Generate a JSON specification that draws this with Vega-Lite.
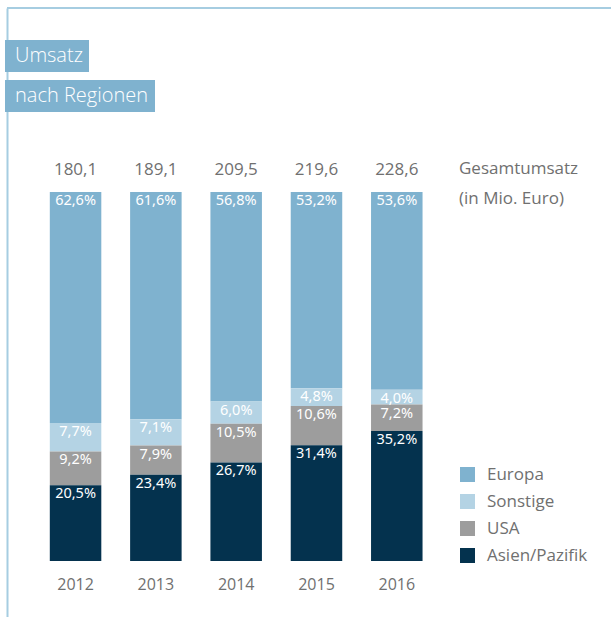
{
  "$schema": "https://vega.github.io/schema/vega-lite/v6.json",
  "width": 604,
  "height": 609,
  "autosize": {"type": "none"},
  "padding": {"left": 7, "top": 8, "right": 0, "bottom": 0},
  "background": "white",
  "config": {
    "view": {"stroke": null},
    "locale": {"number": {"decimal": ",", "thousands": ".", "grouping": [3], "currency": ["", " €"]}},
    "font": "Open Sans"
  },
  "datasets": {
    "regions": [
      {"year": "2012", "region": "Europa", "share": 0.626},
      {"year": "2012", "region": "Sonstige", "share": 0.077},
      {"year": "2012", "region": "USA", "share": 0.092},
      {"year": "2012", "region": "Asien/Pazifik", "share": 0.205},
      {"year": "2013", "region": "Europa", "share": 0.616},
      {"year": "2013", "region": "Sonstige", "share": 0.071},
      {"year": "2013", "region": "USA", "share": 0.079},
      {"year": "2013", "region": "Asien/Pazifik", "share": 0.234},
      {"year": "2014", "region": "Europa", "share": 0.568},
      {"year": "2014", "region": "Sonstige", "share": 0.060},
      {"year": "2014", "region": "USA", "share": 0.105},
      {"year": "2014", "region": "Asien/Pazifik", "share": 0.267},
      {"year": "2015", "region": "Europa", "share": 0.532},
      {"year": "2015", "region": "Sonstige", "share": 0.048},
      {"year": "2015", "region": "USA", "share": 0.106},
      {"year": "2015", "region": "Asien/Pazifik", "share": 0.314},
      {"year": "2016", "region": "Europa", "share": 0.536},
      {"year": "2016", "region": "Sonstige", "share": 0.040},
      {"year": "2016", "region": "USA", "share": 0.072},
      {"year": "2016", "region": "Asien/Pazifik", "share": 0.352}
    ],
    "totals": [
      {"year": "2012", "total": 180.1},
      {"year": "2013", "total": 189.1},
      {"year": "2014", "total": 209.5},
      {"year": "2015", "total": 219.6},
      {"year": "2016", "total": 228.6}
    ]
  },
  "layer": [
    {
      "data": {"name": "regions"},
      "transform": [
        {"calculate": "indexof(['Asien/Pazifik','USA','Sonstige','Europa'], datum.region)", "as": "rank"},
        {"stack": "share", "groupby": ["year"], "sort": [{"field": "rank", "order": "ascending"}], "as": ["y0", "y1"]}
      ],
      "layer": [
        {
          "mark": {"type": "bar"},
          "encoding": {
            "x": {
              "field": "year", "type": "ordinal",
              "scale": {"range": [2.65, 455.7], "paddingInner": 0.3587, "paddingOuter": 0.5},
              "axis": null
            },
            "y": {
              "field": "y0", "type": "quantitative",
              "scale": {"domain": [-0.15176, 1.49864], "nice": false, "zero": false},
              "axis": {"orient": "left", "labels": false, "ticks": false, "title": null, "grid": false, "domain": true, "domainColor": "#a6cde1", "domainWidth": 2}
            },
            "y2": {"field": "y1"},
            "color": {
              "field": "region", "type": "nominal",
              "scale": {"domain": ["Europa", "Sonstige", "USA", "Asien/Pazifik"], "range": ["#7fb2cf", "#b4d3e4", "#9d9d9d", "#04324e"]},
              "legend": {
                "orient": "none", "legendX": 452, "legendY": 153,
                "title": ["Gesamtumsatz", "(in Mio. Euro)"],
                "titleFont": "Open Sans", "titleFontSize": 17, "titleFontWeight": "normal", "titleColor": "#707070",
                "titleLineHeight": 30, "titlePadding": 258, "titleLimit": 300,
                "symbolType": "square", "symbolSize": 225, "symbolStrokeWidth": 0, "symbolOpacity": 1,
                "labelFont": "Open Sans", "labelFontSize": 17, "labelColor": "#707070", "labelOffset": 11, "labelLimit": 300,
                "rowPadding": 9, "padding": 0
              }
            }
          }
        },
        {
          "mark": {"type": "text", "baseline": "top", "dy": 2, "color": "white", "font": "Noto Sans", "fontSize": 14.5},
          "encoding": {
            "x": {"field": "year", "type": "ordinal", "axis": null},
            "y": {"field": "y1", "type": "quantitative"},
            "text": {"field": "share", "type": "quantitative", "format": ".1%"}
          }
        }
      ]
    },
    {
      "data": {"values": [{"edge": "top"}]},
      "mark": {"type": "rule", "color": "#a6cde1", "strokeWidth": 2},
      "encoding": {
        "y": {"datum": 1.49864, "type": "quantitative"}
      }
    },
    {
      "data": {"name": "totals"},
      "mark": {"type": "text", "baseline": "middle", "dy": -22, "color": "#707070", "font": "Open Sans", "fontSize": 17},
      "encoding": {
        "x": {"field": "year", "type": "ordinal", "axis": null},
        "y": {"datum": 1, "type": "quantitative"},
        "text": {"field": "total", "type": "quantitative", "format": ".1f"}
      }
    },
    {
      "data": {"name": "totals"},
      "mark": {"type": "text", "baseline": "middle", "dy": 23.5, "color": "#707070", "font": "Open Sans", "fontSize": 16},
      "encoding": {
        "x": {"field": "year", "type": "ordinal", "axis": null},
        "y": {"datum": 0, "type": "quantitative"},
        "text": {"field": "year", "type": "nominal"}
      }
    },
    {
      "data": {"values": [{"line": "Umsatz"}]},
      "mark": {"type": "point", "opacity": 0},
      "encoding": {
        "shape": {
          "field": "line", "type": "nominal",
          "legend": {
            "orient": "none", "legendX": -2, "legendY": 32, "title": null,
            "fillColor": "#7fb2cf", "padding": 6,
            "symbolSize": 0, "symbolOpacity": 0, "symbolStrokeWidth": 0,
            "labelOffset": -16, "labelFont": "Open Sans", "labelFontSize": 20, "labelFontWeight": 300, "labelColor": "white", "labelLimit": 300
          }
        }
      }
    },
    {
      "data": {"values": [{"line": "nach Regionen"}]},
      "mark": {"type": "point", "opacity": 0},
      "encoding": {
        "shape": {
          "field": "line", "type": "nominal",
          "legend": {
            "orient": "none", "legendX": -2, "legendY": 72, "title": null,
            "fillColor": "#7fb2cf", "padding": 6,
            "symbolSize": 0, "symbolOpacity": 0, "symbolStrokeWidth": 0,
            "labelOffset": -16, "labelFont": "Open Sans", "labelFontSize": 20, "labelFontWeight": 300, "labelColor": "white", "labelLimit": 300
          }
        }
      }
    }
  ],
  "resolve": {"scale": {"shape": "independent"}, "legend": {"shape": "independent"}}
}
